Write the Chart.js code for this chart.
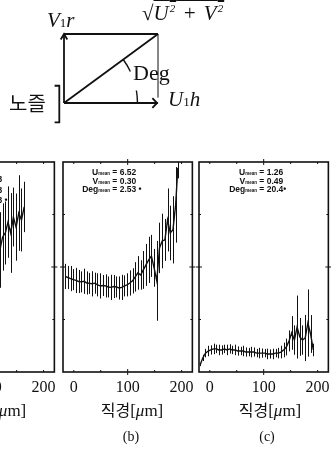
<!DOCTYPE html>
<html>
<head>
<meta charset="utf-8">
<script src="https://cdn.jsdelivr.net/npm/chart.js"></script>
<style>
body { margin:0; width:331px; height:452px; overflow:hidden; background:#fff; position:relative; font-family:'Liberation Serif', serif; color:#111; }
canvas { position:absolute; }
.lbl { position:absolute; white-space:nowrap; line-height:1; }
.it { font-style:italic; }
.mean { position:absolute; font-family:'Liberation Sans', Arial, sans-serif; font-weight:bold; font-size:8.5px; line-height:7.5px; white-space:nowrap; }
.mean span.k { display:inline-block; text-align:right; }
.mean sub { font-size:4.5px; vertical-align:baseline; }
.xt { position:absolute; white-space:nowrap; font-size:17px; line-height:1; transform:translateX(-50%); }
.xt .ko { font-family:'Noto Sans CJK KR', sans-serif; font-size:16px; }
.cap { position:absolute; font-size:14px; line-height:1; transform:translateX(-50%); }
</style>
</head>
<body>
<canvas id="diagram" width="331" height="140" style="left:0;top:0"></canvas>
<canvas id="pa" width="142" height="245" style="left:-80px;top:157px"></canvas>
<canvas id="pb" width="142" height="245" style="left:58px;top:157px"></canvas>
<canvas id="pc" width="142" height="245" style="left:194px;top:157px"></canvas>

<div class="lbl it" style="left:47px;top:10px;font-size:21px">V<span style="font-style:normal;font-size:13px">1</span>r</div>
<div class="lbl" style="left:142px;top:3px;font-size:21px">√<span class="it" style="text-decoration:overline;letter-spacing:1px">U<sup style="font-size:11px">2</sup>&nbsp;+&nbsp;V<sup style="font-size:11px">2</sup></span></div>
<div class="lbl" style="left:133px;top:62px;font-size:22px">Deg</div>
<div class="lbl it" style="left:168px;top:89px;font-size:21px">U<span style="font-style:normal;font-size:13px">1</span>h</div>
<div class="lbl" style="left:9px;top:93px;font-size:20px;font-family:'Noto Sans CJK KR',sans-serif">노즐</div>

<div class="mean" style="left:-56px;top:176px">
<div><span class="k" style="width:32px">U<sub>mean</sub></span> = 4.83</div>
<div style="margin-top:2px"><span class="k" style="width:32px">V<sub>mean</sub></span> = 0.53</div>
<div style="margin-top:2px"><span class="k" style="width:32px">Deg<sub>mean</sub></span> = 6.13 •</div>
</div>
<div class="mean" style="left:78px;top:169px">
<div><span class="k" style="width:32px">U<sub>mean</sub></span> = 6.52</div>
<div><span class="k" style="width:32px">V<sub>mean</sub></span> = 0.30</div>
<div><span class="k" style="width:32px">Deg<sub>mean</sub></span> = 2.53 •</div>
</div>
<div class="mean" style="left:225px;top:169px">
<div><span class="k" style="width:32px">U<sub>mean</sub></span> = 1.26</div>
<div><span class="k" style="width:32px">V<sub>mean</sub></span> = 0.49</div>
<div><span class="k" style="width:32px">Deg<sub>mean</sub></span> = 20.4•</div>
</div>

<div class="xt" style="left:-5px;top:401px"><span class="ko">직경</span>[<span class="it">μ</span>m]</div>
<div class="xt" style="left:132px;top:401px"><span class="ko">직경</span>[<span class="it">μ</span>m]</div>
<div class="xt" style="left:270px;top:401px"><span class="ko">직경</span>[<span class="it">μ</span>m]</div>
<div class="cap" style="left:-7px;top:430px">(a)</div>
<div class="cap" style="left:131px;top:430px">(b)</div>
<div class="cap" style="left:267px;top:430px">(c)</div>

<script>
// 직경 축 눈금
const xTicks = [0, 100, 200];

// (a) 일부만 보임
const xA = [99, 104, 109, 114, 119, 124, 129, 134, 139, 144, 149, 154, 159, 164];
const yA = [5.57, 5.81, 5.95, 6.14, 5.81, 6.43, 6.62, 7.14, 6.62, 7.38, 6.90, 7.57, 7.24, 7.86];
const eA = [1.6, 1.5, 1.7, 1.6, 1.8, 1.6, 1.5, 1.7, 1.9, 1.4, 1.6, 1.8, 1.5, 1.2];

// (b)
const xB = [-16, -11, -6, -1, 4, 9, 14, 19, 24, 29, 34, 39, 44, 49, 54, 59, 64, 69, 74, 79, 84, 89,
    94, 99, 104, 109, 114, 119, 124, 129, 134, 139, 144, 149, 154, 159, 164, 169, 174, 179, 184, 189, 193];
const yB = [4.55, 4.50, 4.45, 4.40, 4.36, 4.31, 4.29, 4.32, 4.24, 4.22, 4.20, 4.23, 4.15, 4.10, 4.12, 4.10,
    4.05, 4.03, 4.07, 4.05, 4.00, 4.03, 4.10, 4.15, 4.24, 4.34, 4.53, 4.72, 4.62, 4.86, 5.10, 5.34, 5.53,
    4.96, 4.34, 5.91, 6.24, 6.29, 7.24, 6.62, 6.77, 7.96, 9.72];
const eB = [0.6, 0.55, 0.6, 0.5, 0.6, 0.55, 0.5, 0.6, 0.55, 0.5, 0.6, 0.5, 0.55, 0.6, 0.5, 0.55, 0.5, 0.6,
    0.55, 0.5, 0.55, 0.6, 0.5, 0.55, 0.6, 0.6, 0.7, 0.8, 0.7, 0.9, 1.0, 1.1, 1.0, 0.9, 1.9, 1.2, 1.3, 1.0,
    1.5, 1.3, 1.6, 1.8, 0.5];

// (c)
const xC = [-18, -13, -8, -3, 2, 7, 12, 17, 22, 27, 32, 37, 42, 47, 52, 57, 62, 67, 72, 77, 82, 87,
    92, 97, 102, 107, 112, 117, 122, 127, 132, 137, 142, 147, 152, 157, 162, 167, 172, 177, 182, 187, 192];
const yC = [0.33, 0.67, 0.90, 1.00, 1.05, 1.10, 1.10, 1.05, 1.05, 1.10, 1.05, 1.10, 1.05, 1.05, 1.00, 1.00,
    1.00, 0.95, 0.95, 0.95, 0.95, 0.90, 0.90, 0.90, 0.90, 0.86, 0.86, 0.86, 0.90, 0.90, 0.95, 1.05, 1.19,
    1.48, 1.86, 1.52, 2.14, 1.67, 1.52, 1.62, 2.33, 1.81, 1.05];
const eC = [0.05, 0.15, 0.2, 0.25, 0.22, 0.25, 0.2, 0.25, 0.22, 0.2, 0.25, 0.22, 0.2, 0.25, 0.22, 0.2,
    0.25, 0.22, 0.2, 0.25, 0.22, 0.2, 0.25, 0.22, 0.2, 0.25, 0.22, 0.25, 0.2, 0.25, 0.3, 0.35, 0.4, 0.5,
    0.8, 0.7, 1.5, 0.9, 0.7, 1.1, 1.6, 0.9, 0.3];

// 벡터 도식 (원점 = 노즐)
const vecLines = [
    [[0, 0], [0, 1]],
    [[0, 1], [1, 1]],
    [[0, 0], [1, 0]],
    [[0, 0], [1, 1]],
    [[-0.035, 0.92], [0, 1], [0.035, 0.92]],
    [[0.94, 0.07], [0.99, 0], [0.94, -0.07]],
    [[-0.1, 0.25], [-0.05, 0.25], [-0.05, -0.28], [-0.1, -0.28]]
];
const vecGuide = [[1, 1], [1, 0.08]];

const angleArcs = {
    id: 'angleArcs',
    afterDatasetsDraw(chart) {
        const { ctx, scales: { x, y } } = chart;
        const ox = x.getPixelForValue(0), oy = y.getPixelForValue(0);
        const dx = x.getPixelForValue(1) - ox, dy = oy - y.getPixelForValue(1);
        const r = Math.hypot(dx, dy) * 0.63;
        const a = Math.atan2(dy, dx);
        ctx.save();
        ctx.strokeStyle = '#111';
        ctx.lineWidth = 1.4;
        ctx.beginPath();
        ctx.arc(ox, oy, r, -a, -a * 0.7);
        ctx.stroke();
        ctx.beginPath();
        ctx.arc(ox, oy, r, -a * 0.27, -0.01);
        ctx.stroke();
        ctx.restore();
    }
};

const datasets = vecLines.map(pts => ({
    data: pts.map(p => ({ x: p[0], y: p[1] })),
    borderColor: '#111', borderWidth: 1.8, pointRadius: 0, clip: false, showLine: true
}));
datasets.push({
    data: vecGuide.map(p => ({ x: p[0], y: p[1] })),
    borderColor: '#777', borderWidth: 1, pointRadius: 0, clip: false, showLine: true
});

new Chart(document.getElementById('diagram').getContext('2d'), {
    type: 'scatter',
    data: { datasets: datasets },
    options: {
        responsive: false,
        animation: false,
        layout: { padding: { left: 64, right: 173, top: 34, bottom: 37 } },
        plugins: { legend: { display: false }, tooltip: { enabled: false } },
        scales: {
            x: { type: 'linear', min: 0, max: 1, display: false },
            y: { type: 'linear', min: 0, max: 1, display: false }
        }
    },
    plugins: [angleArcs]
});

// 테두리, 눈금
const panelFrame = {
    id: 'panelFrame',
    afterDraw(chart) {
        const { ctx, chartArea: c, scales: { x, y } } = chart;
        ctx.save();
        ctx.strokeStyle = '#111';
        ctx.lineWidth = 1.6;
        ctx.strokeRect(c.left, c.top, c.right - c.left, c.bottom - c.top);
        ctx.lineWidth = 1;
        const ym = y.getPixelForValue(5);
        ctx.beginPath();
        ctx.moveTo(c.left - 3, ym); ctx.lineTo(c.left + 3, ym);
        ctx.moveTo(c.right - 3, ym); ctx.lineTo(c.right + 3, ym);
        const xm = x.getPixelForValue(100);
        ctx.moveTo(xm, c.top - 3); ctx.lineTo(xm, c.top + 3);
        ctx.moveTo(xm, c.bottom - 3); ctx.lineTo(xm, c.bottom + 3);
        [0, 50, 150, 200].forEach(v => {
            const px = x.getPixelForValue(v);
            ctx.moveTo(px, c.top); ctx.lineTo(px, c.top + 2);
            ctx.moveTo(px, c.bottom); ctx.lineTo(px, c.bottom - 2);
        });
        [2.5, 7.5].forEach(v => {
            const py = y.getPixelForValue(v);
            ctx.moveTo(c.left, py); ctx.lineTo(c.left + 2, py);
            ctx.moveTo(c.right, py); ctx.lineTo(c.right - 2, py);
        });
        ctx.stroke();
        ctx.restore();
    }
};

const errorBars = {
    id: 'errorBars',
    afterDatasetsDraw(chart) {
        const { ctx, chartArea: c, scales: { x, y } } = chart;
        const ds = chart.data.datasets[0];
        ctx.save();
        ctx.beginPath();
        ctx.rect(c.left, c.top, c.right - c.left, c.bottom - c.top);
        ctx.clip();
        ctx.strokeStyle = '#111';
        ctx.lineWidth = 1;
        ctx.beginPath();
        ds.data.forEach((p, i) => {
            const px = Math.round(x.getPixelForValue(p.x)) + 0.5;
            ctx.moveTo(px, y.getPixelForValue(p.y - ds.errs[i]));
            ctx.lineTo(px, y.getPixelForValue(p.y + ds.errs[i]));
        });
        ctx.stroke();
        ctx.restore();
    }
};

function makePanel(id, xs, ys, errs) {
    new Chart(document.getElementById(id).getContext('2d'), {
        type: 'line',
        data: {
            datasets: [{
                data: xs.map((v, i) => ({ x: v, y: ys[i] })),
                errs: errs,
                borderColor: '#111',
                borderWidth: 1.4,
                pointRadius: 0,
                tension: 0
            }]
        },
        options: {
            responsive: false,
            animation: false,
            layout: { padding: { left: 5, right: 5, top: 5, bottom: 0 } },
            plugins: { legend: { display: false }, tooltip: { enabled: false } },
            scales: {
                x: {
                    type: 'linear', min: -20, max: 220,
                    grid: { display: false, drawTicks: false },
                    border: { display: false },
                    afterBuildTicks: a => { a.ticks = xTicks.map(v => ({ value: v })); },
                    afterFit: a => { a.height = 30; },
                    ticks: { font: { family: 'Liberation Serif', size: 16 }, color: '#111', padding: 6, maxRotation: 0, autoSkip: false }
                },
                y: { display: false, min: 0, max: 10 }
            }
        },
        plugins: [errorBars, panelFrame]
    });
}

makePanel('pa', xA, yA, eA);
makePanel('pb', xB, yB, eB);
makePanel('pc', xC, yC, eC);
</script>
</body>
</html>
